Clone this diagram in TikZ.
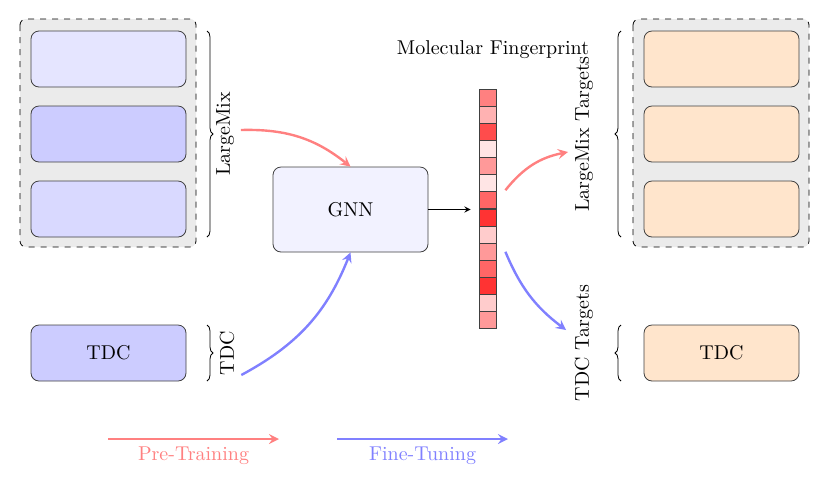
\documentclass[tikz,border=0pt]{standalone}
\usepackage{tikz}
\usetikzlibrary{positioning, calc}
\usetikzlibrary{arrows.meta}
\usetikzlibrary{decorations.pathreplacing}

\begin{document}
\begin{tikzpicture}[x=0.5pt,y=-0.5pt,>=stealth,
    databox/.style={draw=black!75, rounded corners=4pt, minimum width=77.5pt, minimum height=28pt, inner sep=0pt},
    groupbox/.style={draw, dashed, fill=black!8, rounded corners=3pt},
    cell/.style={draw=black!75, minimum width=8.5pt, minimum height=8.55pt, inner sep=0pt},
    curly/.style={decorate, decoration={brace, amplitude=3pt}},
    pre/.style={->, red!50, very thick},
    fine/.style={->, blue!50, very thick}]
    \useasboundingbox (0,0) rectangle (830,489);
    % Gruppi tratteggiati
    \draw[groupbox] (20,19) rectangle (196,247);
    \draw[groupbox] (633,19) rectangle (809,247);
    % Dataset LargeMix e TDC
    \node[databox, fill=blue!10] (lm1) at (108.5,59) {};
    \node[databox, fill=blue!20] (lm2) at (108.5,134) {};
    \node[databox, fill=blue!15] (lm3) at (108.5,209) {};
    \node[databox, fill=blue!20] (tdc) at (108.5,353) {TDC};
    % Parentesi a sinistra
    \draw[curly] (207,31) -- (207,237);
    \draw[curly] (207,325) -- (207,381);
    \node[rotate=90] (lmlabel) at (225,134) {LargeMix};
    \node[rotate=90] (tdclabel) at (227,353) {TDC};
    % Modello
    \node[databox, fill=blue!5, minimum height=42.5pt] (gnn) at (350.5,209.5) {GNN};
    % Fingerprint
    \foreach \s [count=\i] in {50,30,70,10,40,10,60,80,20,40,60,80,20,40}
        \node[cell, fill=red!\s] (c\i) at (487.5,{97.5+17.14*(\i-1)}) {};
    \node (fplabel) at (493,50) {Molecular Fingerprint};
    \draw[->] (gnn.east) -- (gnn.east -| c1.west) [shorten >=4pt];
    % Target
    \node[databox, fill=orange!20] (tg1) at (721.5,59) {};
    \node[databox, fill=orange!20] (tg2) at (721.5,134) {};
    \node[databox, fill=orange!20] (tg3) at (721.5,209) {};
    \node[databox, fill=orange!20] (tgtdc) at (721.5,353) {TDC};
    \draw[curly] (621,237) -- (621,31);
    \draw[curly] (621,381) -- (621,325);
    \node[rotate=90] (lmtarget) at (584,134) {LargeMix Targets};
    \node[rotate=90] (tdctarget) at (584,343) {TDC Targets};
    % Frecce curve
    \coordinate (lmin) at (568,152);
    \coordinate (tdcin) at (566,330);
    \draw[pre] (lmlabel.south) ++(0,-4) to[bend left=20] (gnn.north);
    \draw[fine] (tdclabel.south) ++(0,22) to[bend right=20] (gnn.south);
    \draw[pre] ($(c6.east)+(9,7)$) to[bend left=20] (lmin);
    \draw[fine] ($(c10.east)+(9,0)$) to[bend right=15] (tdcin);
    % Legenda
    \coordinate (pre1) at (108,439);
    \coordinate (pre2) at (279,439);
    \coordinate (fine1) at (337,439);
    \coordinate (fine2) at (508,439);
    \draw[pre] (pre1) -- (pre2) node[midway, below, text=red!50] (prelabel) {Pre-Training};
    \draw[fine] (fine1) -- (fine2) node[midway, below, text=blue!50] (finelabel) {Fine-Tuning};
\end{tikzpicture}
\end{document}
